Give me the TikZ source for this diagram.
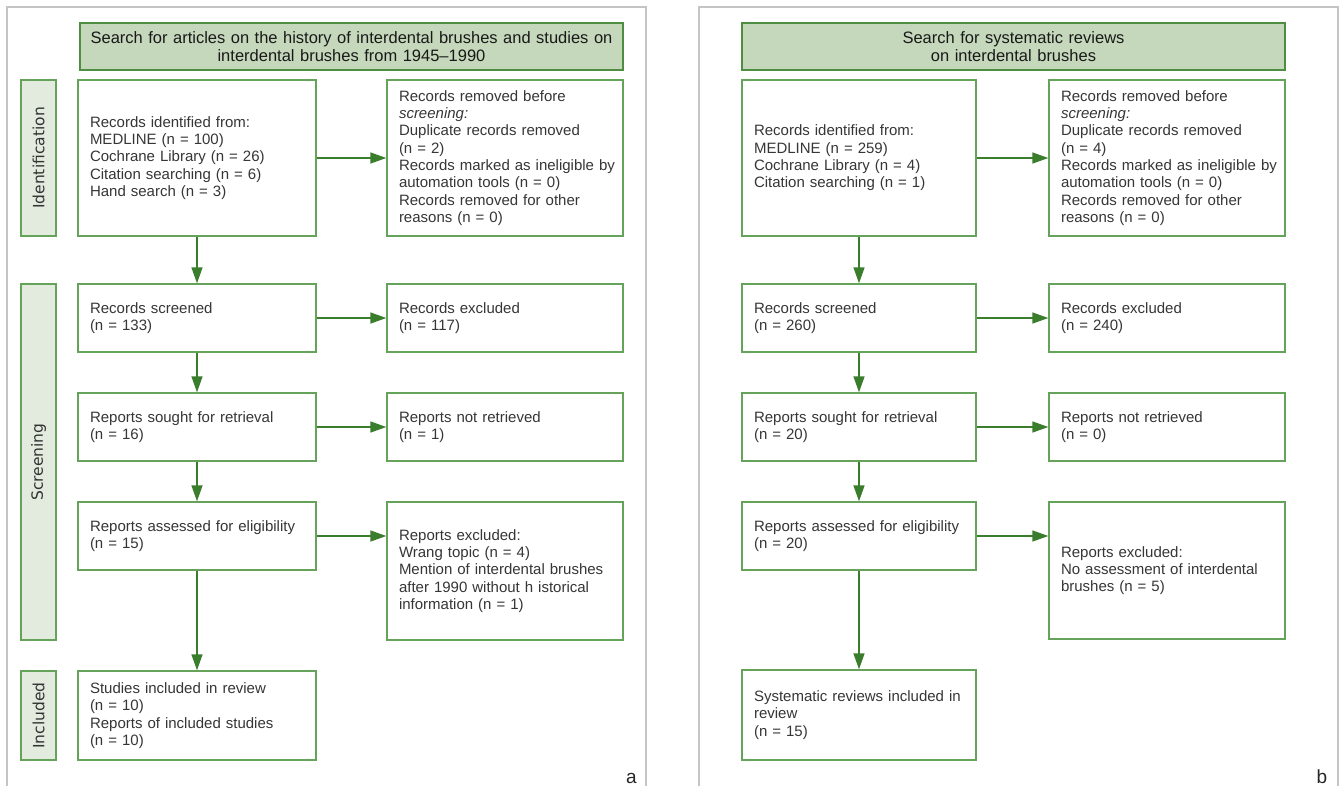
\documentclass[tikz,border=0pt]{standalone}
\usepackage{fontspec}
\setmainfont{Liberation Sans}
\newfontfamily\sidefont{DejaVu Sans}
\usetikzlibrary{arrows.meta}
\definecolor{boxgreen}{HTML}{66A35A}
\definecolor{arrgreen}{HTML}{3A7D2C}
\definecolor{headfill}{HTML}{C5D8BB}
\definecolor{headdraw}{HTML}{4E8E40}
\definecolor{sidefill}{HTML}{E2EBDD}
\definecolor{framegray}{HTML}{C4C4C4}
\definecolor{txt}{HTML}{363636}
\begin{document}
\begin{tikzpicture}[x=1pt,y=-1pt,
  flowbox/.style={draw=boxgreen, line width=1.4pt, fill=white, inner xsep=12pt, inner ysep=0pt, align=left, text=txt, font=\fontsize{15}{17.3}\selectfont},
  headbox/.style={draw=headdraw, line width=1.4pt, fill=headfill, align=center, text=black!90, font=\fontsize{16.5}{17.3}\selectfont, inner sep=0pt, minimum height=47pt, minimum width=543pt, text width=530pt},
  sidebox/.style={draw=boxgreen, line width=1.4pt, fill=sidefill, minimum height=35pt, inner sep=0pt, rotate=90, font=\sidefont\fontsize{15.5}{18}\selectfont, text=black!80},
  panelframe/.style={draw=framegray, line width=1.4pt},
  flowarrow/.style={draw=arrgreen, line width=1.5pt, -{Triangle[length=16pt,width=11pt]}},
  panellabel/.style={font=\fontsize{19}{19}\selectfont, text=black!85, anchor=base, inner sep=0pt}
]
\useasboundingbox (0,0) rectangle (1344,785);
\clip (0,0) rectangle (1344,785);
\fill[white] (0,0) rectangle (1344,785);

% ---------- panel a ----------
\draw[panelframe] (7,7) rectangle (646,800);
\node[headbox] (ha) at (351.5,46.5) {Search for articles on the history of interdental brushes and studies on\\interdental brushes from 1945--1990};

\node[sidebox, minimum width=156pt] (sid) at (38.5,158) {Identification};
\node[sidebox, minimum width=356pt] (sscr) at (38.5,462) {Screening};
\node[sidebox, minimum width=89pt] (sinc) at (38.5,715.5) {Included};

\node[flowbox, text width=214pt, minimum width=238pt, minimum height=156pt] (a1) at (197,158) {Records identified from:\\MEDLINE (n = 100)\\Cochrane Library (n = 26)\\Citation searching (n = 6)\\Hand search (n = 3)};
\node[flowbox, text width=212pt, minimum width=236pt, minimum height=156pt] (r1) at (505,158) {Records removed before\\\textit{screening:}\\Duplicate records removed\\(n = 2)\\\mbox{Records marked as ineligible by}\\automation tools (n = 0)\\Records removed for other\\reasons (n = 0)};

\node[flowbox, text width=214pt, minimum width=238pt, minimum height=68pt] (a2) at (197,318) {Records screened\\(n = 133)};
\node[flowbox, text width=212pt, minimum width=236pt, minimum height=68pt] (r2) at (505,318) {Records excluded\\(n = 117)};

\node[flowbox, text width=214pt, minimum width=238pt, minimum height=68pt] (a3) at (197,427) {Reports sought for retrieval\\(n = 16)};
\node[flowbox, text width=212pt, minimum width=236pt, minimum height=68pt] (r3) at (505,427) {Reports not retrieved\\(n = 1)};

\node[flowbox, text width=214pt, minimum width=238pt, minimum height=68pt] (a4) at (197,536) {\mbox{Reports assessed for eligibility}\\(n = 15)};
\node[flowbox, text width=212pt, minimum width=236pt, minimum height=138pt] (r4) at (505,571) {Reports excluded:\\Wrang topic (n = 4)\\\mbox{Mention of interdental brushes}\\\mbox{after 1990 without h istorical}\\information (n = 1)};

\node[flowbox, text width=214pt, minimum width=238pt, minimum height=89pt] (a5) at (197,715.5) {Studies included in review\\(n = 10)\\Reports of included studies\\(n = 10)};

\draw[flowarrow] (a1.east) -- (a1.east -| r1.west);
\draw[flowarrow] (a2.east) -- (a2.east -| r2.west);
\draw[flowarrow] (a3.east) -- (a3.east -| r3.west);
\draw[flowarrow] (a4.east) -- (a4.east -| r4.west);
\draw[flowarrow] (a1.south) -- (a2.north);
\draw[flowarrow] (a2.south) -- (a3.north);
\draw[flowarrow] (a3.south) -- (a4.north);
\draw[flowarrow] (a4.south) -- (a5.north);

\node[panellabel] (la) at (631.5,783) {a};

% ---------- panel b ----------
\draw[panelframe] (699,7) rectangle (1338,800);
\node[headbox] (hb) at (1013.5,46.5) {Search for systematic reviews\\on interdental brushes};

\node[flowbox, text width=210pt, minimum width=234pt, minimum height=156pt] (b1) at (859,158) {Records identified from:\\MEDLINE (n = 259)\\Cochrane Library (n = 4)\\Citation searching (n = 1)};
\node[flowbox, text width=212pt, minimum width=236pt, minimum height=156pt] (s1) at (1167,158) {Records removed before\\\textit{screening:}\\Duplicate records removed\\(n = 4)\\\mbox{Records marked as ineligible by}\\automation tools (n = 0)\\Records removed for other\\reasons (n = 0)};

\node[flowbox, text width=210pt, minimum width=234pt, minimum height=68pt] (b2) at (859,318) {Records screened\\(n = 260)};
\node[flowbox, text width=212pt, minimum width=236pt, minimum height=68pt] (s2) at (1167,318) {Records excluded\\(n = 240)};

\node[flowbox, text width=210pt, minimum width=234pt, minimum height=68pt] (b3) at (859,427) {Reports sought for retrieval\\(n = 20)};
\node[flowbox, text width=212pt, minimum width=236pt, minimum height=68pt] (s3) at (1167,427) {Reports not retrieved\\(n = 0)};

\node[flowbox, text width=210pt, minimum width=234pt, minimum height=68pt] (b4) at (859,536) {\mbox{Reports assessed for eligibility}\\(n = 20)};
\node[flowbox, text width=212pt, minimum width=236pt, minimum height=137pt] (s4) at (1167,570.5) {Reports excluded:\\\mbox{No assessment of interdental}\\brushes (n = 5)};

\node[flowbox, text width=210pt, minimum width=234pt, minimum height=90pt] (b5) at (859,715) {\mbox{Systematic reviews included in}\\review\\(n = 15)};

\draw[flowarrow] (b1.east) -- (b1.east -| s1.west);
\draw[flowarrow] (b2.east) -- (b2.east -| s2.west);
\draw[flowarrow] (b3.east) -- (b3.east -| s3.west);
\draw[flowarrow] (b4.east) -- (b4.east -| s4.west);
\draw[flowarrow] (b1.south) -- (b2.north);
\draw[flowarrow] (b2.south) -- (b3.north);
\draw[flowarrow] (b3.south) -- (b4.north);
\draw[flowarrow] (b4.south) -- (b5.north);

\node[panellabel] (lb) at (1322,783) {b};
\end{tikzpicture}
\end{document}
